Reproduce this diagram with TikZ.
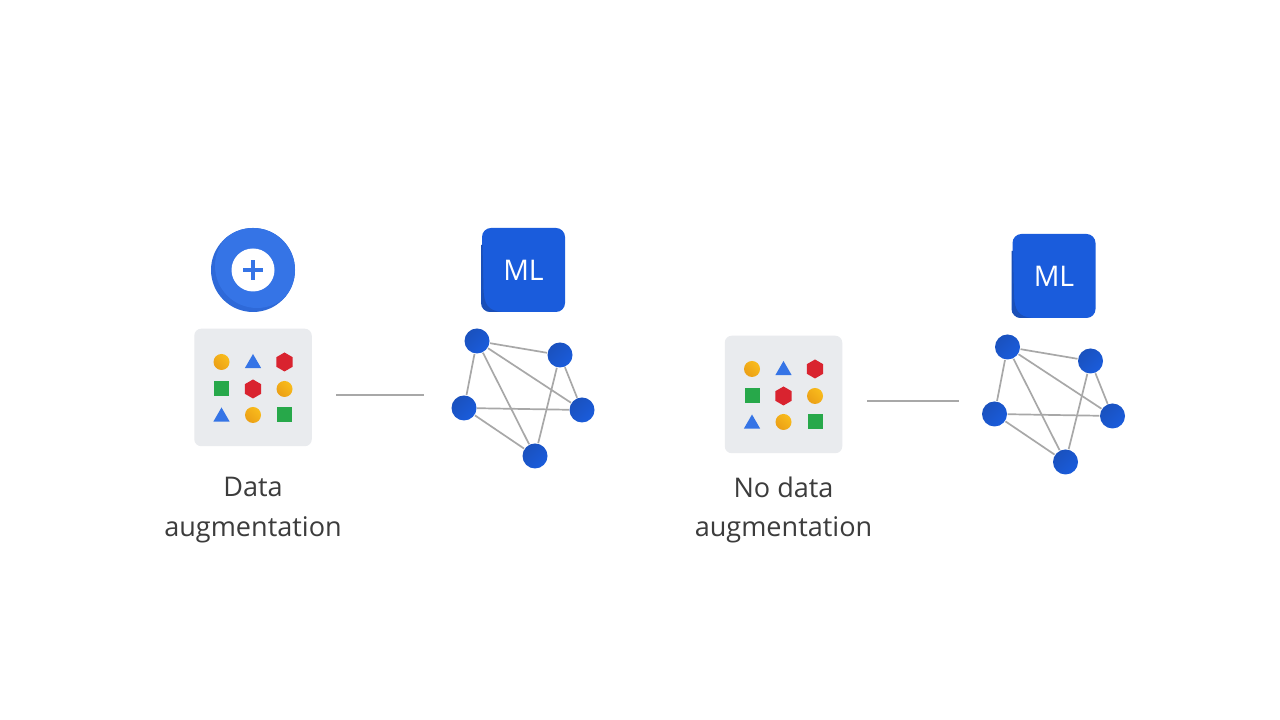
\documentclass[tikz,border=0pt]{standalone}
\usepackage{fontspec}
\setmainfont{Open Sans}
\usetikzlibrary{shapes.geometric}

\definecolor{mlblue}{HTML}{1A5CDC}
\definecolor{mldark}{HTML}{1A4FB8}
\definecolor{plusblue}{HTML}{3574E6}
\definecolor{plusdark}{HTML}{2E69D8}
\definecolor{panelgray}{HTML}{E9EBEE}
\definecolor{edgegray}{HTML}{A8A8A8}
\definecolor{goldA}{HTML}{F9BC1C}
\definecolor{goldB}{HTML}{EB9F16}
\definecolor{iconred}{HTML}{D9232F}
\definecolor{icongreen}{HTML}{27A84A}
\definecolor{textgray}{HTML}{3C3C3C}

\tikzset{
  dotnode/.style={circle,inner sep=0pt,minimum size=0.25cm,left color=mldark!85!mlblue,right color=mlblue,shading angle=45},
  goldicon/.style={circle,inner sep=0pt,minimum size=0.16cm,left color=goldA,right color=goldB,shading angle=-45},
  triicon/.style={regular polygon,regular polygon sides=3,inner sep=0pt,minimum size=0.19cm,fill=plusblue},
  hexicon/.style={regular polygon,regular polygon sides=6,shape border rotate=90,inner sep=0pt,minimum size=0.19cm,fill=iconred},
  squareicon/.style={rectangle,inner sep=0pt,minimum size=0.15cm,fill=icongreen},
  linkline/.style={edgegray,line width=0.17mm},
  caption/.style={align=center,text=textgray,font=\fontsize{7.7}{11.35}\selectfont,inner sep=0pt},
}

\begin{document}
\begin{tikzpicture}
\useasboundingbox (0,0) rectangle (12.8,7.2);
\fill[white] (0,0) rectangle (12.8,7.2);

% plus badge
\node[circle,fill=plusdark,inner sep=0pt,minimum size=0.84cm] (badge) at (2.53,4.5) {};
\begin{scope}
\clip (2.53,4.5) circle(0.42cm);
\fill[plusblue] (2.57,4.54) circle(0.42cm);
\end{scope}
\node[circle,fill=white,inner sep=0pt,minimum size=0.43cm] (badgehole) at (2.53,4.5) {};
\fill[plusblue] (2.43,4.48) rectangle (2.63,4.52);
\fill[plusblue] (2.51,4.4) rectangle (2.55,4.6);

% both data panels
\foreach \p/\sx/\sy in {a/0/0,b/5.305/-0.07}{
\begin{scope}[shift={(\sx,\sy)},name prefix=\p]
\node[rectangle,rounded corners=0.07cm,fill=panelgray,inner sep=0pt,minimum size=1.175cm] (panel) at (2.53,3.325) {};
\node[goldicon] (i1) at (2.215,3.58) {};
\node[triicon] (i2) at (2.53,3.565) {};
\node[hexicon] (i3) at (2.845,3.58) {};
\node[squareicon] (i4) at (2.215,3.31) {};
\node[hexicon] (i5) at (2.53,3.31) {};
\node[goldicon] (i6) at (2.845,3.31) {};
\node[triicon] (i7) at (2.215,3.03) {};
\node[goldicon] (i8) at (2.53,3.05) {};
\node[squareicon] (i9) at (2.845,3.05) {};
\end{scope}
}

% both models
\foreach \p/\sx/\sy in {a/0/0,b/5.305/-0.06}{
\begin{scope}[shift={(\sx,\sy)},name prefix=\p]
\node[rectangle,rounded corners=0.09cm,fill=mlblue,text=white,inner sep=0pt,minimum width=0.83cm,minimum height=0.84cm,font=\fontsize{8.1}{10}\selectfont] (ml) at (5.235,4.5) {ML};
\begin{scope}
\clip[rounded corners=0.09cm] (4.81,4.08) rectangle (5.65,4.92);
\fill[mldark] (4.81,4.75) -- (4.81,4.08) -- (5.02,4.08) .. controls (4.88,4.09) and (4.84,4.16) .. (4.835,4.3) -- (4.825,4.75) -- cycle;
\end{scope}

\node[dotnode] (n1) at (4.77,3.79) {};
\node[dotnode] (n2) at (5.60,3.65) {};
\node[dotnode] (n3) at (4.64,3.12) {};
\node[dotnode] (n4) at (5.82,3.10) {};
\node[dotnode] (n5) at (5.35,2.64) {};

\draw[linkline] (n1) -- (n2);
\draw[linkline] (n1) -- (n3);
\draw[linkline] (n1) -- (n4);
\draw[linkline] (n1) -- (n5);
\draw[linkline] (n2) -- (n4);
\draw[linkline] (n2) -- (n5);
\draw[linkline] (n3) -- (n4);
\draw[linkline] (n3) -- (n5);
\end{scope}
}

% links from data to model
\coordinate (afrom) at (3.36,3.25);
\coordinate (ato) at (4.24,3.25);
\coordinate (bfrom) at (8.67,3.19);
\coordinate (bto) at (9.59,3.19);
\draw[edgegray,line width=0.14mm] (afrom) -- (ato);
\draw[edgegray,line width=0.14mm] (bfrom) -- (bto);

\node[caption] (acap) at (2.53,2.10) {Data\\augmentation};
\node[caption] (bcap) at (7.835,2.10) {No data\\augmentation};

\end{tikzpicture}
\end{document}
